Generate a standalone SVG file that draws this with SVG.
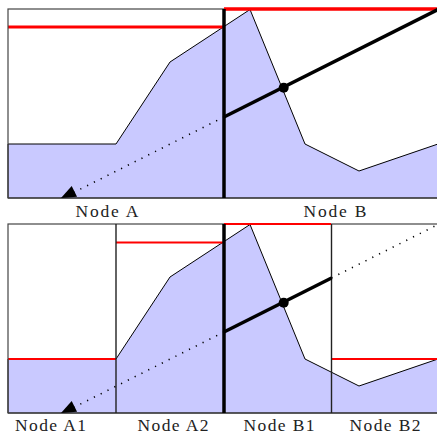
<svg xmlns="http://www.w3.org/2000/svg" width="437" height="435" viewBox="0 0 437 435">
<style>
.frame{fill:none;stroke:#444;stroke-width:1.2}
.area{fill:#c9c9ff;stroke:#000;stroke-width:1}
.red{stroke:#ff0000;fill:none}
.thick{stroke:#000;stroke-width:3.5;fill:none}
.div{stroke:#222;stroke-width:1.4}
.dot{stroke:#000;stroke-width:1.6;stroke-dasharray:1.2 6.4;fill:none}
.lbl{font-family:"Liberation Serif","Times New Roman",serif;font-size:17.5px;fill:#222;text-anchor:middle}
</style>
<rect width="437" height="435" fill="#fff"/>
<g id="panel-top">
  <g id="nodeA">
    <polygon class="area" points="8,198 8,144 116,144 170,62 250,9.5 305,144 359,171 438,144 438,198"/>
    <line class="red" stroke-width="3.2" x1="8" y1="27" x2="224" y2="27"/>
    <text class="lbl" x="107" y="217" textLength="63" lengthAdjust="spacing">Node A</text>
  </g>
  <g id="nodeB">
    <line class="red" stroke-width="3.2" x1="224" y1="9" x2="437" y2="9"/>
    <text class="lbl" x="335" y="217" textLength="63" lengthAdjust="spacing">Node B</text>
  </g>
  <rect class="frame" x="8" y="9" width="432" height="189"/>
  <line class="red" stroke-width="3.2" x1="224" y1="9" x2="437" y2="9"/>
</g>
<g id="panel-bottom">
  <g id="nodeA1">
    <polygon class="area" points="8,413 8,359 116,359 170,277 250,224.5 305,359 359,386 438,359 438,413"/>
    <line class="red" stroke-width="2" x1="8" y1="359" x2="116" y2="359"/>
    <text class="lbl" x="50.5" y="431" textLength="71" lengthAdjust="spacing">Node A1</text>
  </g>
  <g id="nodeA2">
    <line class="red" stroke-width="2" x1="116" y1="242.5" x2="224" y2="242.5"/>
    <text class="lbl" x="173" y="431" textLength="71" lengthAdjust="spacing">Node A2</text>
  </g>
  <g id="nodeB1">
    <text class="lbl" x="279" y="431" textLength="71" lengthAdjust="spacing">Node B1</text>
  </g>
  <g id="nodeB2">
    <line class="red" stroke-width="2" x1="331" y1="359" x2="437" y2="359"/>
    <text class="lbl" x="385" y="431" textLength="71" lengthAdjust="spacing">Node B2</text>
  </g>
  <rect class="frame" x="8" y="224" width="432" height="189"/>
  <line class="div" x1="116" y1="224" x2="116" y2="413"/>
  <line class="div" x1="331.5" y1="224" x2="331.5" y2="413"/>
  <line class="red" stroke-width="2" x1="224" y1="224" x2="331" y2="224"/>
</g>
<g id="connectors">
  <line class="thick" x1="224" y1="9" x2="224" y2="198"/>
  <line class="thick" x1="224" y1="117" x2="438" y2="9.5"/>
  <line class="dot" x1="224" y1="117" x2="72" y2="193.3"/>
  <polygon points="61,198 77.1,196.7 71.7,185.9" fill="#000"/>
  <circle cx="283.7" cy="87.7" r="5" fill="#000"/>
  <line class="thick" x1="224" y1="224" x2="224" y2="413"/>
  <line class="thick" x1="224" y1="332" x2="331.5" y2="278"/>
  <line class="dot" x1="331.5" y1="278" x2="438" y2="224.5"/>
  <line class="dot" x1="224" y1="332" x2="72" y2="408.3"/>
  <polygon points="61,413 77.1,411.7 71.7,400.9" fill="#000"/>
  <circle cx="283.7" cy="302.7" r="5" fill="#000"/>
</g>
</svg>
